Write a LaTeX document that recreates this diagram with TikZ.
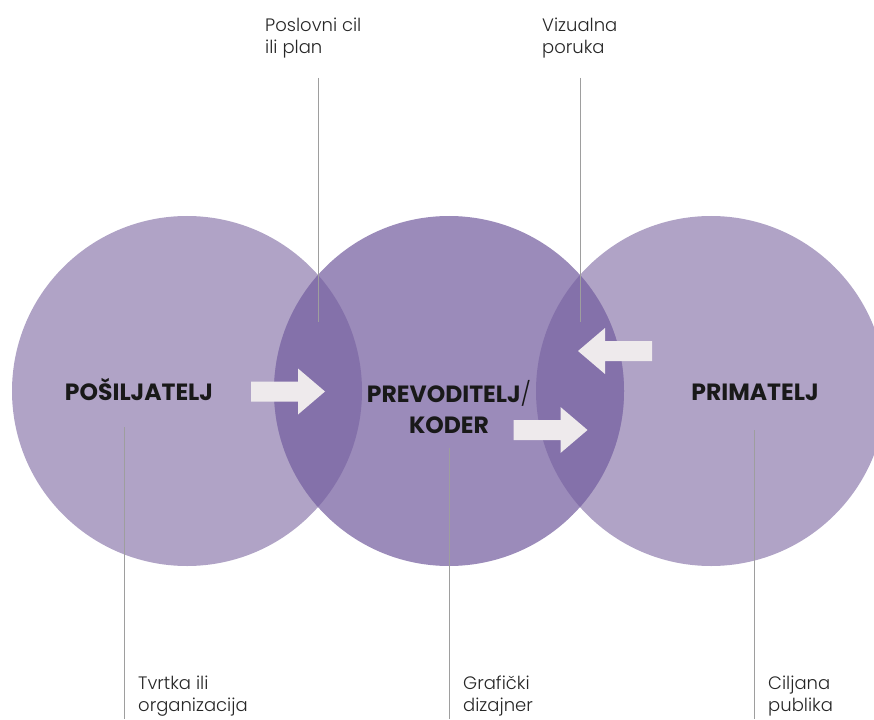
\documentclass[tikz,border=0pt]{standalone}
\usepackage{fontspec}
\setmainfont{Poppins}
\newfontfamily\thinfont{Poppins}[UprightFont={* Light}]
\usepackage{tikz}
\definecolor{outerfill}{HTML}{B0A3C6}
\definecolor{innerfill}{HTML}{9B8BBA}
\definecolor{lensfill}{HTML}{8471AA}
\definecolor{arrowfill}{HTML}{EEEAEC}
\definecolor{leadcolor}{HTML}{9E9E9E}
\tikzstyle{role} = [font=\fontsize{23.5}{31}\selectfont\bfseries, text=black!90,
    align=center, inner sep=0pt]
\tikzstyle{note} = [font=\thinfont\fontsize{18}{21.5}\selectfont, text=black!85,
    align=left, anchor=north west, inner sep=0pt]
\tikzstyle{lead} = [draw=leadcolor, line width=0.8pt]
\tikzset{blockarrow/.pic={
    \fill[arrowfill] (-37,-10) -- (10,-10) -- (10,-23) -- (37,0)
        -- (10,23) -- (10,10) -- (-37,10) -- cycle;}}

\begin{document}
\begin{tikzpicture}[x=1pt, y=-1pt]
    \useasboundingbox (0,0) rectangle (874,719);
    \clip (0,0) rectangle (874,719);

    % % % % % % % % % % % % % % % % % % % % % % %
    % Circles
    % % % % % % % % % % % % % % % % % % % % % % %
    \coordinate (left) at (187,391);
    \coordinate (mid) at (449,391);
    \coordinate (right) at (711,391);

    \fill[outerfill] (left) circle (175pt);
    \fill[outerfill] (right) circle (175pt);
    \fill[innerfill] (mid) circle (175pt);

    % the two overlaps
    \begin{scope}
        \clip (mid) circle (175pt);
        \fill[lensfill] (left) circle (175pt);
        \fill[lensfill] (right) circle (175pt);
    \end{scope}

    % Arrows
    \pic at (288,391.5) {blockarrow};
    \pic at (550.5,430) {blockarrow};
    \pic[rotate=180] at (615,351) {blockarrow};

    % % % % % % % % % % % % % % % % % % % % % % %
    % Labels
    % % % % % % % % % % % % % % % % % % % % % % %
    \node [role, anchor=base] (sender) at (139,400) {POŠILJATELJ};
    \node [role] (coder) at (449,407) {PREVODITELJ{\thinfont\mdseries/}\\KODER};
    \node [role, anchor=base] (receiver) at (755,400) {PRIMATELJ};

    \node [note] (goal) at (265,18) {Poslovni cil\\ili plan};
    \node [note] (message) at (542,18) {Vizualna\\poruka};
    \node [note] (company) at (138,676) {Tvrtka ili\\organizacija};
    \node [note] (designer) at (463,676) {Grafički\\dizajner};
    \node [note] (audience) at (768,676) {Ciljana\\publika};

    % Leader lines
    \coordinate (goal top) at (318,78);
    \coordinate (goal end) at (318,322);
    \coordinate (message top) at (580,78);
    \coordinate (message end) at (580,322);
    \coordinate (company top) at (124,427);
    \coordinate (company end) at (124,719);
    \coordinate (designer top) at (449,448);
    \coordinate (designer end) at (449,719);
    \coordinate (audience top) at (754,430);
    \coordinate (audience end) at (754,719);

    \draw [lead] (goal top) -- (goal end);
    \draw [lead] (message top) -- (message end);
    \draw [lead] (company top) -- (company end);
    \draw [lead] (designer top) -- (designer end);
    \draw [lead] (audience top) -- (audience end);

\end{tikzpicture}
\end{document}
